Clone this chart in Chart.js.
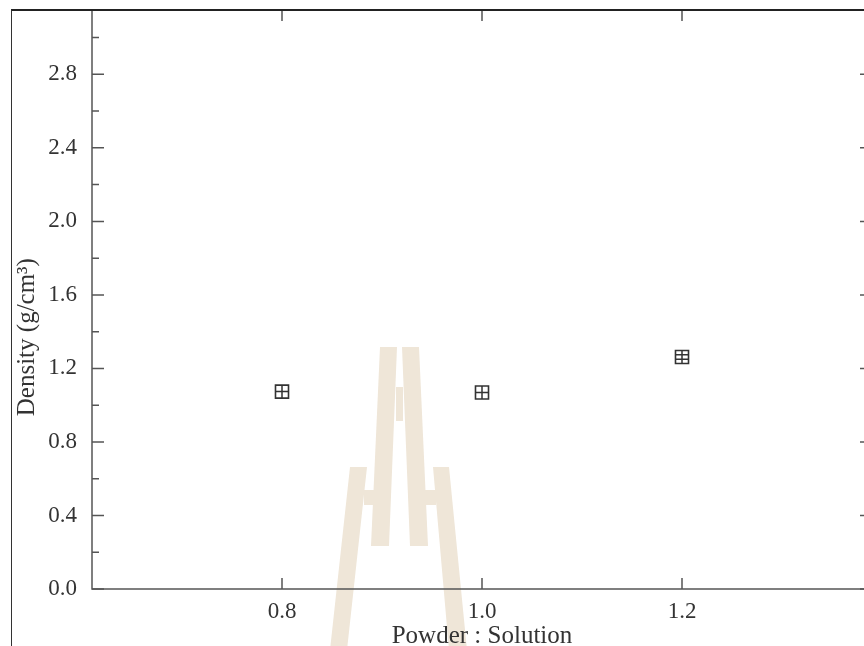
<!DOCTYPE html>
<html>
<head>
<meta charset="utf-8">
<script src="https://cdn.jsdelivr.net/npm/chart.js@4.4.1/dist/chart.umd.min.js"></script>
<style>
  html, body { margin: 0; padding: 0; overflow: hidden; background: #fff; }
  #wrap { position: relative; width: 872px; height: 646px; }
  #myChart { display: block; }
  #frame { position: absolute; left: 11px; top: 9px; right: 0; bottom: 0;
           border-left: 1.5px solid #333; border-top: 2px solid #222; pointer-events: none; }
</style>
</head>
<body>
<div id="wrap"><canvas id="myChart" width="872" height="646"></canvas><div id="frame"></div></div>
<script>
// powder : solution ratio vs density
const ratios = [0.8, 1.0, 1.2];
const density = [1.074, 1.069, 1.262];
const densityErr = [0, 0, 0.012];

const xTicks = [0.8, 1.0, 1.2];
const yTicks = [0, 0.4, 0.8, 1.2, 1.6, 2.0, 2.4, 2.8];
const yMinor = [0.2, 0.6, 1.0, 1.4, 1.8, 2.2, 2.6, 3.0];

const serif = '"Liberation Serif", "Times New Roman", serif';
const axisColor = '#555';

// faint logo in the background (decoration only)
const watermark = {
  id: 'watermark',
  beforeDraw(chart) {
    const ctx = chart.ctx;
    const shapes = [
      [[380, 347], [397, 347], [389, 546], [371, 546]],
      [[402, 347], [419, 347], [428, 546], [410, 546]],
      [[396, 387], [403, 387], [403, 421], [396, 421]],
      [[350, 467], [367, 467], [347, 650], [330, 650]],
      [[433, 467], [449, 467], [467, 650], [449, 650]],
      [[364, 490], [378, 490], [378, 505], [364, 505]],
      [[421, 490], [436, 490], [436, 505], [421, 505]]
    ];
    ctx.save();
    ctx.fillStyle = '#efe6d8';
    for (const s of shapes) {
      ctx.beginPath();
      s.forEach((p, i) => i ? ctx.lineTo(p[0], p[1]) : ctx.moveTo(p[0], p[1]));
      ctx.closePath();
      ctx.fill();
    }
    ctx.restore();
  }
};

// box frame with inward ticks on all four sides
const frameTicks = {
  id: 'frameTicks',
  afterDraw(chart) {
    const {ctx, chartArea: a, scales: {x, y}} = chart;
    ctx.save();
    ctx.strokeStyle = axisColor;
    ctx.lineWidth = 1.5;
    ctx.beginPath();
    ctx.moveTo(a.left, a.top); ctx.lineTo(a.left, a.bottom);
    ctx.lineTo(a.right, a.bottom); ctx.lineTo(a.right, a.top);
    ctx.stroke();

    ctx.beginPath();
    for (const v of yTicks) {
      const py = y.getPixelForValue(v);
      ctx.moveTo(a.left, py); ctx.lineTo(a.left + 12, py);
      ctx.moveTo(a.right, py); ctx.lineTo(a.right - 12, py);
    }
    for (const v of yMinor) {
      const py = y.getPixelForValue(v);
      ctx.moveTo(a.left, py); ctx.lineTo(a.left + 7, py);
      ctx.moveTo(a.right, py); ctx.lineTo(a.right - 7, py);
    }
    for (const v of xTicks) {
      const px = x.getPixelForValue(v);
      ctx.moveTo(px, a.bottom); ctx.lineTo(px, a.bottom - 11);
      ctx.moveTo(px, a.top); ctx.lineTo(px, a.top + 11);
    }
    ctx.stroke();

    // y title, rotated
    ctx.fillStyle = '#333';
    ctx.font = '25px ' + serif;
    ctx.textAlign = 'center';
    ctx.textBaseline = 'middle';
    ctx.translate(27, a.top + 0.565 * (a.bottom - a.top));
    ctx.rotate(-Math.PI / 2);
    ctx.fillText('Density (g/cm\u00B3)', 0, 0);
    ctx.restore();
  }
};

// cross / error bar inside each square marker
const errBars = {
  id: 'errBars',
  afterDatasetsDraw(chart) {
    const {ctx, scales: {x, y}} = chart;
    const h = 6.5;
    ctx.save();
    ctx.strokeStyle = '#333';
    ctx.lineWidth = 1.5;
    ratios.forEach((r, i) => {
      const px = x.getPixelForValue(r);
      const py = y.getPixelForValue(density[i]);
      const hi = y.getPixelForValue(density[i] + densityErr[i]);
      const lo = y.getPixelForValue(density[i] - densityErr[i]);
      ctx.beginPath();
      ctx.moveTo(px, py - h); ctx.lineTo(px, py + h);
      ctx.moveTo(px - h, hi); ctx.lineTo(px + h, hi);
      ctx.moveTo(px - h, lo); ctx.lineTo(px + h, lo);
      ctx.stroke();
    });
    ctx.restore();
  }
};

const points = ratios.map((r, i) => ({ x: r, y: density[i] }));

new Chart(document.getElementById('myChart'), {
  type: 'scatter',
  data: {
    datasets: [{
      label: 'Density',
      data: points,
      pointStyle: 'rect',
      pointRadius: 9.2,
      pointBorderWidth: 1.6,
      borderColor: '#333',
      backgroundColor: 'rgba(0,0,0,0)'
    }]
  },
  options: {
    responsive: false,
    devicePixelRatio: 1,
    animation: false,
    layout: { autoPadding: false, padding: { top: 10, right: 0, bottom: 0, left: 0 } },
    plugins: { legend: { display: false }, tooltip: { enabled: false } },
    scales: {
      x: {
        type: 'linear',
        min: 0.61,
        max: 1.39,
        afterFit: (s) => { s.height = 57; s.paddingLeft = 0; s.paddingRight = 0; },
        afterBuildTicks: (s) => { s.ticks = xTicks.map(v => ({ value: v })); },
        grid: { display: false, drawTicks: false },
        border: { display: false },
        ticks: {
          padding: 9,
          color: '#333',
          font: { family: serif, size: 23 },
          callback: (v) => v.toFixed(1)
        },
        title: {
          display: true,
          text: 'Powder : Solution',
          color: '#333',
          font: { family: serif, size: 25, lineHeight: 0.8 },
          padding: 0
        }
      },
      y: {
        type: 'linear',
        min: 0,
        max: 3.15,
        afterFit: (s) => { s.width = 92; s.paddingTop = 0; s.paddingBottom = 0; },
        afterBuildTicks: (s) => { s.ticks = yTicks.map(v => ({ value: v })); },
        grid: { display: false, drawTicks: false },
        border: { display: false },
        ticks: {
          padding: 15,
          color: '#333',
          font: { family: serif, size: 23 },
          callback: (v) => v.toFixed(1)
        }
      }
    }
  },
  plugins: [watermark, errBars, frameTicks]
});
</script>
</body>
</html>
